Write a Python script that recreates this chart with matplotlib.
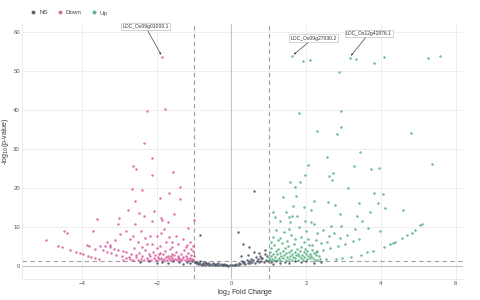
import matplotlib
matplotlib.use("Agg")
import matplotlib.pyplot as plt
import numpy as np
from matplotlib.lines import Line2D

plt.rcParams["font.family"] = ["Liberation Sans", "DejaVu Sans"]

# (log2 fold change, -log10 p)
ns_pts = [
    (-0.98, 0.9), (-0.95, 0.6), (-0.93, 1.0), (-0.90, 0.4), (-0.88, 0.8), (-0.85, 0.5),
    (-0.83, 1.1), (-0.80, 0.3), (-0.77, 0.7), (-0.75, 0.5), (-0.72, 0.9), (-0.70, 0.2),
    (-0.67, 0.6), (-0.64, 0.4), (-0.62, 0.8), (-0.59, 0.3), (-0.56, 0.5), (-0.53, 0.2),
    (-0.50, 0.7), (-0.47, 0.4), (-0.44, 0.1), (-0.41, 0.5), (-0.38, 0.3), (-0.35, 0.6),
    (-0.32, 0.2), (-0.29, 0.4), (-0.26, 0.1), (-0.23, 0.3), (-0.20, 0.5), (-0.17, 0.2),
    (-0.14, 0.1), (-0.11, 0.3), (-0.08, 0.05), (-0.05, 0.2), (0.02, 0.1), (0.06, 0.3),
    (0.10, 0.2), (0.13, 0.5), (0.17, 0.3), (0.20, 0.8), (0.24, 0.4), (0.27, 1.1),
    (0.31, 0.6), (0.34, 0.9), (0.37, 0.5), (0.41, 1.4), (0.44, 0.8), (0.47, 1.2),
    (0.50, 0.6), (0.53, 1.8), (0.56, 1.0), (0.59, 1.5), (0.62, 0.7), (0.65, 2.2),
    (0.68, 1.1), (0.71, 1.7), (0.74, 0.9), (0.77, 2.6), (0.80, 1.3), (0.83, 2.0),
    (0.86, 1.0), (0.89, 3.0), (0.92, 1.6), (0.95, 2.4), (0.97, 1.2),
    (0.61, 19.2), (0.17, 8.7), (-0.84, 7.8), (0.32, 5.6), (0.48, 4.7), (0.61, 3.6),
    (0.26, 2.6), (0.44, 2.8), (0.73, 3.2), (0.79, 2.1), (0.90, 4.1),
    (-2.45, 0.9), (-2.20, 1.1), (-2.00, 0.8), (-1.85, 1.0), (-1.70, 0.6), (-1.55, 1.1),
    (-1.40, 0.9), (-1.30, 0.5), (-1.20, 1.0), (-1.10, 0.7), (-1.05, 1.2),
    (1.05, 0.9), (1.12, 0.5), (1.20, 1.1), (1.30, 0.8), (1.42, 1.0), (1.55, 0.6),
    (1.70, 1.1), (1.85, 0.9), (2.00, 1.2), (2.20, 0.8), (2.40, 1.0),
]

down_pts = [
    (-1.85, 53.6),
    (-2.25, 39.6), (-1.77, 40.1), (-2.35, 31.6), (-2.13, 27.6), (-2.64, 25.6), (-2.56, 24.9),
    (-2.13, 23.2), (-1.57, 24.0), (-2.66, 19.7), (-2.40, 19.5), (-1.37, 20.1), (-1.66, 18.7),
    (-2.59, 16.7), (-1.90, 17.3), (-1.37, 17.0), (-2.76, 14.3), (-2.08, 14.0), (-1.53, 13.3),
    (-3.02, 12.3), (-2.47, 13.5), (-2.35, 12.8), (-3.59, 12.0), (-3.04, 10.7), (-2.59, 10.8),
    (-2.12, 11.5), (-1.89, 12.3), (-1.71, 11.3), (-1.85, 11.8), (-1.01, 11.8), (-3.71, 9.0),
    (-4.47, 8.8), (-4.40, 8.3), (-4.95, 6.7), (-4.64, 5.0), (-4.52, 4.8), (-4.32, 4.0),
    (-4.15, 3.4), (-4.05, 3.2), (-3.96, 2.9), (-3.85, 2.6), (-3.75, 2.3), (-3.65, 2.1),
    (-3.54, 1.8), (-3.87, 5.4), (-3.81, 5.1),
    (-3.34, 6.0), (-3.25, 5.3), (-3.12, 6.6), (-2.99, 8.1), (-2.83, 9.0), (-2.72, 6.8),
    (-2.63, 7.7), (-2.50, 6.0), (-2.41, 9.0), (-2.32, 7.0), (-2.19, 7.7), (-2.12, 5.6),
    (-1.99, 7.7), (-1.88, 8.5), (-1.81, 9.4), (-1.74, 6.0), (-1.67, 7.3), (-1.58, 6.0),
    (-1.49, 7.7), (-1.43, 5.6), (-1.30, 6.8), (-1.21, 4.7), (-1.12, 6.0), (-1.08, 4.3),
    (-1.16, 9.8),
    (-3.66, 4.3), (-3.43, 4.0), (-3.32, 3.4), (-3.21, 3.3), (-3.08, 2.7), (-2.94, 2.4),
    (-2.83, 2.1), (-2.72, 1.7),
    (-3.52, 5.1), (-3.39, 5.0), (-3.25, 4.7), (-3.15, 4.3), (-3.03, 4.0), (-2.91, 3.8),
    (-2.81, 3.4), (-2.68, 3.1), (-2.54, 2.7),
    (-2.62, 1.5), (-2.55, 2.3), (-2.50, 1.4), (-2.46, 3.2), (-2.42, 1.8), (-2.38, 2.6),
    (-2.34, 1.5), (-2.30, 4.1), (-2.27, 2.1), (-2.23, 1.6), (-2.20, 3.0), (-2.17, 2.4),
    (-2.14, 1.4), (-2.11, 3.6), (-2.08, 1.9), (-2.05, 2.7), (-2.02, 1.5), (-1.99, 4.5),
    (-1.96, 2.2), (-1.94, 1.7), (-1.91, 3.3), (-1.88, 2.0), (-1.86, 1.4), (-1.83, 2.9),
    (-1.80, 1.8), (-1.78, 3.8), (-1.75, 2.3), (-1.73, 1.5), (-1.70, 2.6), (-1.68, 1.9),
    (-1.65, 4.2), (-1.63, 1.4), (-1.60, 3.1), (-1.58, 2.1), (-1.55, 1.6), (-1.53, 2.8),
    (-1.50, 1.8), (-1.48, 3.5), (-1.45, 1.4), (-1.43, 2.4), (-1.40, 2.0), (-1.38, 1.5),
    (-1.35, 3.0), (-1.33, 1.7), (-1.30, 2.2), (-1.28, 4.0), (-1.25, 1.5), (-1.22, 2.6),
    (-1.20, 1.9), (-1.17, 1.4), (-1.15, 3.3), (-1.12, 2.1), (-1.10, 1.6), (-1.07, 2.8),
    (-1.05, 1.8), (-1.03, 3.7), (-1.02, 1.4), (-1.01, 2.4),
    (-2.90, 1.6), (-2.75, 2.2), (-2.60, 4.6), (-2.40, 4.9), (-1.90, 5.0), (-1.60, 4.8),
    (-1.20, 5.2), (-2.25, 5.5), (-1.04, 5.0), (-1.42, 1.9), (-1.62, 2.5), (-1.95, 3.0),
]

up_pts = [
    (1.62, 53.8), (1.92, 52.6), (2.11, 52.8), (3.16, 53.4), (3.34, 53.0), (3.82, 51.9),
    (4.08, 53.5), (5.27, 53.2), (5.57, 53.7), (2.88, 49.8), (1.80, 39.1), (2.93, 39.7),
    (2.28, 34.6), (2.92, 35.5), (2.82, 33.7), (4.81, 34.0), (3.43, 29.1), (2.55, 27.9),
    (2.04, 25.8), (3.29, 25.7), (3.74, 24.7), (3.96, 25.1), (5.37, 26.2), (1.96, 23.4),
    (2.71, 23.8), (2.62, 22.9), (2.69, 22.0), (1.56, 21.5), (1.83, 21.5), (1.70, 20.1),
    (3.12, 20.0),
    (3.81, 18.6), (4.05, 18.4), (1.37, 17.7), (1.73, 17.9), (2.22, 16.7), (2.59, 16.4),
    (3.42, 16.0), (3.92, 16.2), (1.64, 15.3), (1.94, 15.1), (2.76, 15.5), (4.12, 14.8),
    (4.59, 14.4), (1.12, 13.8), (1.47, 13.8), (2.14, 14.4), (3.71, 13.8), (2.90, 13.2),
    (3.36, 12.7), (1.17, 12.6), (1.54, 12.4), (1.62, 12.8), (1.75, 12.8), (1.29, 11.4),
    (1.56, 11.3), (1.98, 11.5), (2.12, 11.3), (3.48, 11.4), (2.21, 10.7), (2.67, 10.3),
    (2.92, 10.2), (3.65, 9.8), (3.98, 8.9),
    (5.09, 10.7), (5.04, 10.5), (4.92, 9.2), (4.82, 8.5), (4.70, 7.9), (4.57, 7.1),
    (4.37, 6.0), (4.32, 5.9), (4.24, 5.6), (4.08, 4.9),
    (2.30, 1.46), (2.52, 1.7), (2.79, 1.7), (2.97, 2.05), (3.19, 2.2), (3.46, 2.7),
    (3.63, 3.6), (3.79, 3.9),
    (2.26, 3.6), (2.45, 4.0), (2.64, 4.5), (2.85, 5.0), (3.05, 5.6), (3.24, 6.3), (3.40, 6.9),
    (1.20, 9.2), (1.40, 8.6), (1.55, 9.5), (1.80, 9.9), (2.00, 8.8), (2.30, 8.3),
    (2.45, 9.2), (2.60, 7.6), (2.75, 8.4), (1.10, 7.5), (1.30, 7.1), (1.60, 7.8),
    (1.85, 7.4), (2.05, 6.8), (2.25, 6.5), (2.40, 5.9), (2.55, 6.2), (2.15, 5.3),
    (1.05, 6.2), (1.25, 6.6), (1.50, 6.4), (1.70, 6.9), (1.95, 6.1), (3.10, 8.0),
    (3.30, 9.4), (2.90, 7.0),
    (1.01, 2.1), (1.02, 3.4), (1.03, 1.5), (1.05, 4.6), (1.07, 2.6), (1.09, 1.8),
    (1.11, 3.0), (1.13, 1.4), (1.15, 5.2), (1.17, 2.3), (1.19, 3.7), (1.21, 1.6),
    (1.23, 2.9), (1.25, 4.3), (1.27, 2.0), (1.29, 3.3), (1.31, 1.5), (1.33, 2.5),
    (1.35, 5.8), (1.37, 3.9), (1.39, 1.9), (1.41, 2.8), (1.43, 4.6), (1.45, 1.4),
    (1.47, 3.2), (1.49, 2.2), (1.51, 5.1), (1.53, 3.6), (1.55, 1.7), (1.57, 2.6),
    (1.59, 4.1), (1.61, 3.0), (1.63, 1.5), (1.65, 2.3), (1.67, 5.6), (1.69, 3.5),
    (1.71, 1.9), (1.73, 2.8), (1.75, 4.4), (1.77, 3.1), (1.79, 1.6), (1.81, 2.4),
    (1.83, 3.8), (1.85, 2.0), (1.87, 4.9), (1.89, 2.7), (1.91, 1.5), (1.93, 3.4),
    (1.95, 2.2), (1.97, 4.2), (1.99, 2.9), (2.01, 1.7), (2.03, 3.7), (2.05, 2.4),
    (2.07, 5.3), (2.09, 3.1), (2.11, 1.9), (2.13, 2.6), (2.15, 4.0), (2.18, 2.1),
    (2.21, 3.3), (2.24, 1.6), (2.27, 2.8), (2.30, 3.9), (2.34, 2.4), (2.38, 1.8),
]

labels = [
    ("LOC_Os09g01000.1", (-1.85, 53.6), (-2.3, 61.3)),
    ("LOC_Os09g27030.2", (1.62, 53.8), (2.2, 58.4)),
    ("LOC_Os12g42876.1", (3.16, 53.4), (3.68, 59.6)),
]

groups = ["NS", "Down", "Up"]
colors = {"NS": "#4b5265", "Down": "#d9589c", "Up": "#4fae7e"}
data = {"NS": np.array(ns_pts), "Down": np.array(down_pts), "Up": np.array(up_pts)}

fig = plt.figure(figsize=(4.8, 3), dpi=100)
ax = fig.add_axes([0.046, 0.07, 0.919, 0.85])

for g in groups:
    pts = data[g]
    ax.scatter(pts[:, 0], pts[:, 1], s=3.2, color=colors[g], alpha=0.85,
               linewidths=0, zorder=3)

ax.axvline(-1, color="#a0a0a0", lw=0.8, ls=(0, (4, 3)), zorder=2)
ax.axvline(1, color="#a0a0a0", lw=0.8, ls=(0, (4, 3)), zorder=2)
ax.axhline(-np.log10(0.05), color="#a0a0a0", lw=0.8, ls=(0, (4, 3)), zorder=2)
ax.axhline(0, color="#c4c4c4", lw=0.8, zorder=1)
ax.axvline(0, color="#c4c4c4", lw=0.8, zorder=1)

for text, xy, xytext in labels:
    ax.annotate(text, xy=xy, xytext=xytext, fontsize=3.6, color="#333333",
                ha="center", va="center", zorder=5,
                bbox=dict(boxstyle="square,pad=0.25", fc="white", ec="#b0b0b0", lw=0.4),
                arrowprops=dict(arrowstyle="-|>,head_length=0.3,head_width=0.12",
                                color="#444444", lw=0.5, shrinkA=0, shrinkB=1.5))

ax.set_xlim(-5.6, 6.2)
ax.set_ylim(-3.4, 62)
ax.set_xticks([-4, -2, 0, 2, 4, 6])
ax.set_yticks([0, 10, 20, 30, 40, 50, 60])
ax.grid(True, color="#ebebeb", lw=0.6, zorder=0)
ax.set_axisbelow(True)
ax.tick_params(length=0, labelsize=4.3, labelcolor="#555555", pad=1.5)
for side in ["top", "right"]:
    ax.spines[side].set_visible(False)
for side in ["left", "bottom"]:
    ax.spines[side].set_color("#e6e6e6")
    ax.spines[side].set_linewidth(0.6)

fig.text(245 / 480, 1 - 293 / 300, "log$_2$ Fold Change", fontsize=5, color="#333333",
         ha="center", va="center")
fig.text(6 / 480, 1 - 141 / 300, "-log$_{10}$(p-value)", fontsize=5, color="#333333",
         ha="center", va="center", rotation=90)

handles = [Line2D([], [], ls="", marker="o", ms=1.8, color=colors[g], alpha=0.85)
           for g in groups]
fig.legend(handles, groups, loc="upper left", bbox_to_anchor=(0.05, 0.985), ncol=3,
           frameon=False, fontsize=4.5, handletextpad=0.3, columnspacing=1.4,
           handlelength=1.2, labelcolor="#444444")

fig.savefig("out.png", dpi=100)
